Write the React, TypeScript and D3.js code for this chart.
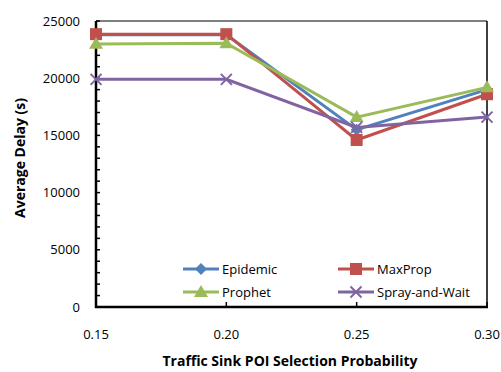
import React from "react";
import * as d3 from "d3";

const categories = [0.15, 0.2, 0.25, 0.3];
const tickLabels = ["0.15", "0.20", "0.25", "0.30"];
const epidemic = [23800, 23800, 15500, 19000];
const maxprop = [23850, 23850, 14600, 18600];
const prophet = [23000, 23050, 16600, 19200];
const sprayAndWait = [19900, 19900, 15700, 16600];
const yTicks = [0, 5000, 10000, 15000, 20000, 25000];
const seriesNames = ["Epidemic", "MaxProp", "Prophet", "Spray-and-Wait"];

const W = 501, H = 372;
const m = { left: 96, right: 487, top: 21, bottom: 307 };

const colors = ["#4F81BD", "#C0504D", "#9BBB59", "#8064A2"];
const markers = ["diamond", "square", "triangle", "x"];

function Marker({ type, x, y, color }: { type: string; x: number; y: number; color: string }) {
  if (type === "diamond") {
    const s = 6;
    return <path d={`M${x},${y - s}L${x + s},${y}L${x},${y + s}L${x - s},${y}Z`} fill={color} />;
  }
  if (type === "square") {
    const s = 6;
    return <rect x={x - s} y={y - s} width={2 * s} height={2 * s} fill={color} />;
  }
  if (type === "triangle") {
    const s = 7;
    return <path d={`M${x},${y - s}L${x + s},${y + s * 0.7}L${x - s},${y + s * 0.7}Z`} fill={color} />;
  }
  const s = 5.5;
  return (
    <path d={`M${x - s},${y - s}L${x + s},${y + s}M${x - s},${y + s}L${x + s},${y - s}`} stroke={color} strokeWidth={2} fill="none" />
  );
}

export default function App() {
  const x = d3.scaleLinear().domain([0.15, 0.3]).range([m.left, m.right]);
  const y = d3.scaleLinear().domain([0, 25000]).range([m.bottom, m.top]);
  const data = [epidemic, maxprop, prophet, sprayAndWait];
  const line = d3
    .line<number>()
    .x((_, i) => x(categories[i]))
    .y((d) => y(d));
  const minor = d3.range(0, 25001, 1000);
  const font = "'Open Sans', sans-serif";
  const legendPos = [
    [183, 269],
    [338, 269],
    [183, 292],
    [338, 292],
  ];
  return (
    <svg width={W} height={H} style={{ position: "absolute", left: 0, top: 0 }} fontFamily={font}>
      <rect width={W} height={H} fill="#fff" />
      <line x1={m.left} x2={m.right} y1={m.top} y2={m.top} stroke="#000" strokeWidth={1} />
      <line x1={m.right} x2={m.right} y1={m.top} y2={m.bottom} stroke="#000" strokeWidth={1.5} />
      {minor.map((v) => (
        <line key={v} x1={m.left} x2={m.left + 4} y1={y(v)} y2={y(v)} stroke="#000" strokeWidth={1.5} />
      ))}
      {categories.map((c) => (
        <line key={c} x1={x(c)} x2={x(c)} y1={m.bottom} y2={m.bottom - 5} stroke="#000" strokeWidth={1.5} />
      ))}
      <line x1={m.left} x2={m.left} y1={m.top} y2={m.bottom + 1} stroke="#000" strokeWidth={2.5} />
      <line x1={m.left - 1} x2={m.right + 1} y1={m.bottom} y2={m.bottom} stroke="#000" strokeWidth={2.5} />
      {yTicks.map((v) => (
        <text key={v} x={80} y={y(v)} dy="0.35em" textAnchor="end" fontSize={13} fill="#000">
          {v}
        </text>
      ))}
      {categories.map((c, i) => (
        <text key={c} x={x(c)} y={334} dy="0.35em" textAnchor="middle" fontSize={13} fill="#000">
          {tickLabels[i]}
        </text>
      ))}
      {data.map((d, si) => (
        <g key={si}>
          <path d={line(d) || ""} fill="none" stroke={colors[si]} strokeWidth={3} />
          {d.map((v, i) => (
            <Marker key={i} type={markers[si]} x={x(categories[i])} y={y(v)} color={colors[si]} />
          ))}
        </g>
      ))}
      {seriesNames.map((n, i) => {
        const [lx, ly] = legendPos[i];
        return (
          <g key={n}>
            <line x1={lx} x2={lx + 36} y1={ly} y2={ly} stroke={colors[i]} strokeWidth={3} />
            <Marker type={markers[i]} x={lx + 18} y={ly} color={colors[i]} />
            <text x={lx + 39} y={ly} dy="0.35em" fontSize={13} fill="#000">
              {n}
            </text>
          </g>
        );
      })}
      <text x={290} y={366} textAnchor="middle" fontSize={14} fontWeight="bold" fill="#000">
        Traffic Sink POI Selection Probability
      </text>
      <text transform={`translate(20,${158}) rotate(-90)`} dy="0.35em" textAnchor="middle" fontSize={14} fontWeight="bold" fill="#000">
        Average Delay (s)
      </text>
    </svg>
  );
}
